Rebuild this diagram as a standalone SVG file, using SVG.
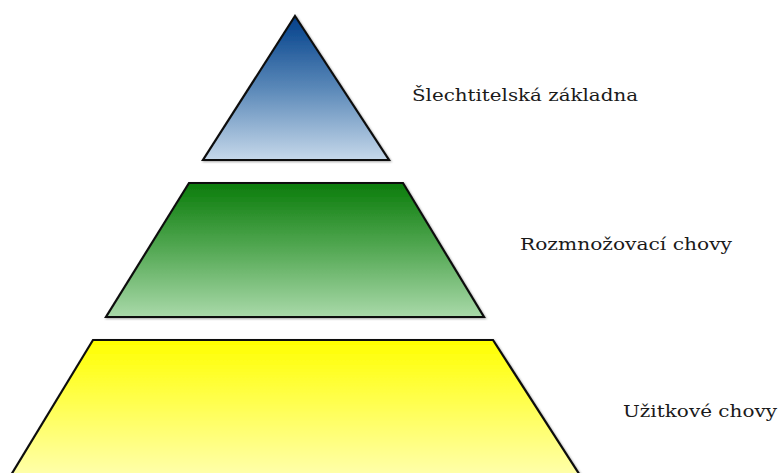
<svg xmlns="http://www.w3.org/2000/svg" width="780" height="473" viewBox="0 0 780 473">
<defs>
<linearGradient id="gBlue" x1="0" y1="0" x2="0" y2="1">
<stop offset="0" stop-color="#003f8a"/>
<stop offset="0.5" stop-color="#5a88b8"/>
<stop offset="1" stop-color="#c6d8ea"/>
</linearGradient>
<linearGradient id="gGreen" x1="0" y1="0" x2="0" y2="1">
<stop offset="0" stop-color="#0a7c0a"/>
<stop offset="0.5" stop-color="#55a955"/>
<stop offset="1" stop-color="#a9d9a9"/>
</linearGradient>
<linearGradient id="gYellow" gradientUnits="userSpaceOnUse" x1="0" y1="340" x2="0" y2="473">
<stop offset="0" stop-color="#ffff00"/>
<stop offset="1" stop-color="#ffffa8"/>
</linearGradient>
<filter id="soft" x="-5%" y="-5%" width="110%" height="110%">
<feGaussianBlur in="SourceAlpha" stdDeviation="1"/>
<feOffset dx="0.5" dy="0.5" result="b"/>
<feFlood flood-color="#000" flood-opacity="0.35"/>
<feComposite in2="b" operator="in"/>
<feMerge><feMergeNode/><feMergeNode in="SourceGraphic"/></feMerge>
</filter>
</defs>
<style>
.tier{stroke:#111;stroke-width:2.2;stroke-linejoin:miter;filter:url(#soft)}
.lbl{font-family:"DejaVu Serif","Liberation Serif",serif;font-size:17px;fill:#1a1a1a}
</style>
<rect width="780" height="473" fill="#fff"/>
<g id="top">
<polygon class="tier" fill="url(#gBlue)" points="295,16 389,160 203,160"/>
<text class="lbl" x="412" y="101" textLength="226" lengthAdjust="spacingAndGlyphs">Šlechtitelská základna</text>
</g>
<g id="middle">
<polygon class="tier" fill="url(#gGreen)" points="189,183 403,183 484,317 106,317"/>
<text class="lbl" x="520" y="250" textLength="212" lengthAdjust="spacingAndGlyphs">Rozmnožovací chovy</text>
</g>
<g id="bottom">
<polygon class="tier" fill="url(#gYellow)" points="93,340 493,340 583,480 8,480"/>
<text class="lbl" x="623" y="417" textLength="154" lengthAdjust="spacingAndGlyphs">Užitkové chovy</text>
</g>
<g id="connectors"/>
</svg>
